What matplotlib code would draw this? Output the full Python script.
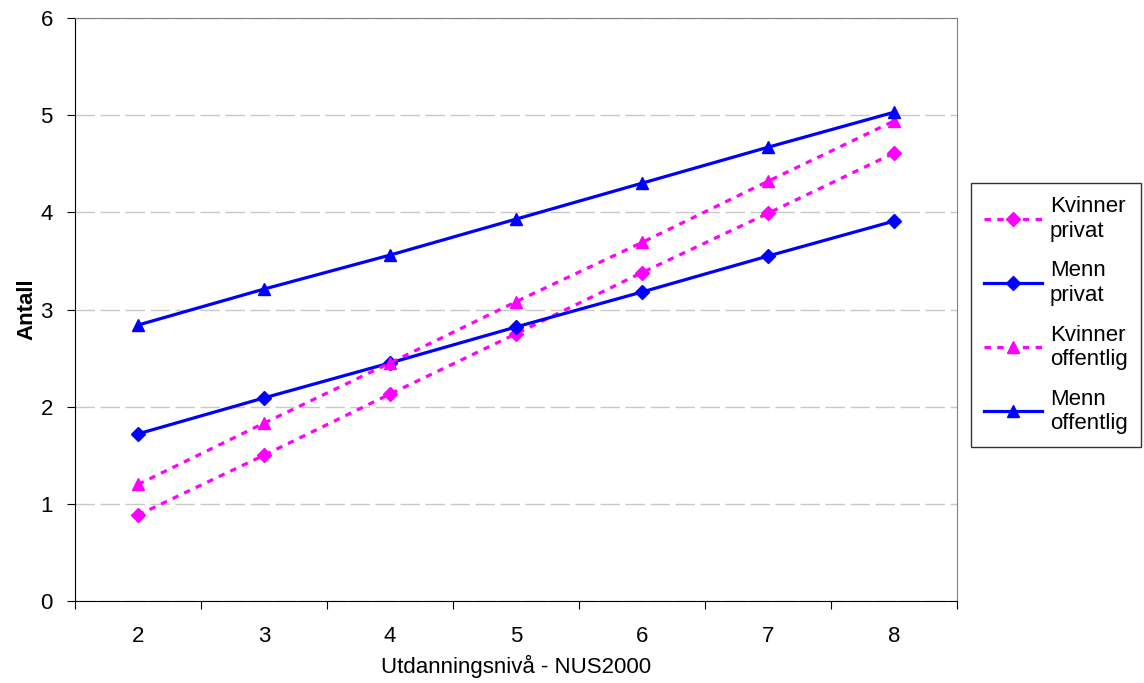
import matplotlib
matplotlib.use("Agg")
import matplotlib.pyplot as plt
from matplotlib.ticker import FixedLocator, NullFormatter

plt.rcParams['font.family'] = ['Liberation Sans', 'DejaVu Sans']

categories = ["2", "3", "4", "5", "6", "7", "8"]
kvinner_privat = [0.885, 1.50, 2.13, 2.75, 3.38, 3.99, 4.61]
menn_privat = [1.72, 2.09, 2.45, 2.82, 3.18, 3.55, 3.91]
kvinner_offentlig = [1.20, 1.83, 2.45, 3.08, 3.69, 4.32, 4.94]
menn_offentlig = [2.84, 3.21, 3.56, 3.93, 4.30, 4.67, 5.03]

BLUE = "#0000FF"
MAG = "#FF00FF"
FS = 16

fig = plt.figure(figsize=(11.44, 6.83), dpi=100)
ax = fig.add_axes([75/1144, 1-601/683, (957-75)/1144, (601-18)/683])

x = list(range(len(categories)))
ax.plot(x, kvinner_privat, color=MAG, lw=2.3, ls=(0, (2, 2)), marker="D", ms=7,
        label="Kvinner\nprivat")
ax.plot(x, menn_privat, color=BLUE, lw=2.3, ls="-", marker="D", ms=7,
        label="Menn\nprivat")
ax.plot(x, kvinner_offentlig, color=MAG, lw=2.3, ls=(0, (2, 2)), marker="^", ms=8.5,
        label="Kvinner\noffentlig")
ax.plot(x, menn_offentlig, color=BLUE, lw=2.3, ls="-", marker="^", ms=8.5,
        label="Menn\noffentlig")

ax.set_xlim(-0.5, len(categories) - 0.5)
ax.set_ylim(0, 6)
ax.set_yticks(range(0, 7))
ax.yaxis.grid(True, color="#C8C8C8", lw=1, ls=(0, (14, 4)))
ax.set_axisbelow(True)

ax.xaxis.set_major_locator(FixedLocator([i - 0.5 for i in range(len(categories) + 1)]))
ax.xaxis.set_major_formatter(NullFormatter())
ax.xaxis.set_minor_locator(FixedLocator(x))
ax.set_xticklabels(categories, minor=True)
ax.tick_params(axis="x", which="minor", length=0, pad=18, labelsize=FS)
ax.tick_params(axis="x", which="major", length=6, direction="out", color="black")
ax.tick_params(axis="y", length=6, direction="out", labelsize=FS, pad=10)

for s in ["top", "right"]:
    ax.spines[s].set_color("#808080")
for s in ["left", "bottom"]:
    ax.spines[s].set_color("black")

ax.set_xlabel("Utdanningsnivå - NUS2000", fontsize=FS, labelpad=6)
ax.set_ylabel("Antall", fontsize=FS, fontweight="bold", labelpad=2)

leg = ax.legend(loc="upper left", bbox_to_anchor=(971/1144, 1-183/683),
                bbox_transform=fig.transFigure, frameon=True, fancybox=False,
                fontsize=FS, handlelength=2.6, labelspacing=0.85,
                borderpad=0.6, handletextpad=0.35, borderaxespad=0)
leg.get_frame().set_edgecolor("black")
leg.get_frame().set_linewidth(1)

fig.savefig("out.png", dpi=100)
